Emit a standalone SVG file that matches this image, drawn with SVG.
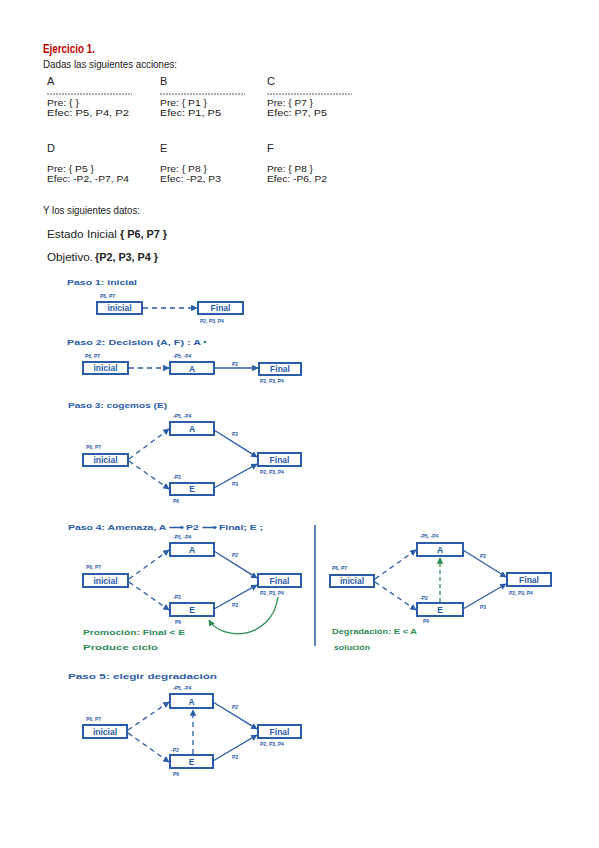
<svg xmlns="http://www.w3.org/2000/svg" width="599" height="848" viewBox="0 0 599 848">
<defs>
<style>
.t{font-family:"Liberation Sans",Arial,sans-serif;font-size:11px;fill:#222}
.s{font-size:9.5px}
.h{font-family:"Liberation Sans",Arial,sans-serif;font-weight:bold;fill:#2b5ca8}
.ti{font-size:8px}
.bx{font-size:8.5px}
.lb{font-size:5px}
.g{font-family:"Liberation Sans",Arial,sans-serif;font-weight:bold;fill:#2e8b57;font-size:8px}
.box{fill:#fff;stroke:#2b5ca8;stroke-width:2}
.sol{fill:none;stroke:#2b5ca8;stroke-width:1.3;marker-end:url(#ab)}
.das{fill:none;stroke:#2b5ca8;stroke-width:1.3;stroke-dasharray:5 4;marker-end:url(#ab)}
.gd{fill:none;stroke:#2e8b57;stroke-width:1.3;stroke-dasharray:4 3;marker-end:url(#ag)}
.gc{fill:none;stroke:#2e8b57;stroke-width:1.3;marker-end:url(#ag)}
</style>
<marker id="ab" viewBox="0 0 10 10" refX="9" refY="5" markerWidth="5" markerHeight="5" orient="auto"><path d="M0 0 L10 5 L0 10 z" fill="#2b5ca8"/></marker>
<marker id="ag" viewBox="0 0 10 10" refX="9" refY="5" markerWidth="5" markerHeight="5" orient="auto"><path d="M0 0 L10 5 L0 10 z" fill="#2e8b57"/></marker>
</defs>
<rect width="599" height="848" fill="#fff"/>

<g id="header">
<text x="43" y="53" font-family="Liberation Sans, Arial, sans-serif" font-weight="bold" font-size="12" fill="#c00000" textLength="52" lengthAdjust="spacingAndGlyphs">Ejercicio 1.</text>
<text x="43" y="68" class="t" font-size="12" textLength="134" lengthAdjust="spacingAndGlyphs">Dadas las siguientes acciones:</text>
</g>

<g id="acciones">
<text x="47" y="85" class="t">A</text>
<text x="160" y="85" class="t">B</text>
<text x="267" y="85" class="t">C</text>
<g stroke="#333" stroke-width="0.8" stroke-dasharray="2 1">
<line x1="47" y1="94" x2="132" y2="94"/>
<line x1="160" y1="94" x2="245" y2="94"/>
<line x1="267" y1="94" x2="352" y2="94"/>
</g>
<text x="47" y="106" class="t s" textLength="32" lengthAdjust="spacingAndGlyphs">Pre: { }</text>
<text x="47" y="116" class="t s" textLength="82" lengthAdjust="spacingAndGlyphs">Efec:  P5,  P4, P2</text>
<text x="160" y="106" class="t s" textLength="47" lengthAdjust="spacingAndGlyphs">Pre: { P1 }</text>
<text x="160" y="116" class="t s" textLength="61" lengthAdjust="spacingAndGlyphs">Efec:  P1, P5</text>
<text x="267" y="106" class="t s" textLength="46" lengthAdjust="spacingAndGlyphs">Pre: { P7 }</text>
<text x="267" y="116" class="t s" textLength="60" lengthAdjust="spacingAndGlyphs">Efec:  P7, P5</text>

<text x="47" y="152" class="t">D</text>
<text x="160" y="152" class="t">E</text>
<text x="267" y="152" class="t">F</text>
<text x="47" y="172" class="t s" textLength="47" lengthAdjust="spacingAndGlyphs">Pre: { P5 }</text>
<text x="47" y="182" class="t s" textLength="82" lengthAdjust="spacingAndGlyphs">Efec: -P2, -P7, P4</text>
<text x="160" y="172" class="t s" textLength="47" lengthAdjust="spacingAndGlyphs">Pre: { P8 }</text>
<text x="160" y="182" class="t s" textLength="61" lengthAdjust="spacingAndGlyphs">Efec: -P2, P3</text>
<text x="267" y="172" class="t s" textLength="46" lengthAdjust="spacingAndGlyphs">Pre: { P8 }</text>
<text x="267" y="182" class="t s" textLength="60" lengthAdjust="spacingAndGlyphs">Efec: -P6, P2</text>
</g>

<g id="datos">
<text x="43" y="214" class="t" font-size="12" textLength="97" lengthAdjust="spacingAndGlyphs">Y los siguientes datos:</text>
<text x="47" y="238" class="t" fill="#3b4c6e" textLength="70" lengthAdjust="spacingAndGlyphs">Estado Inicial</text>
<text x="120" y="238" class="t" font-weight="bold" textLength="47" lengthAdjust="spacingAndGlyphs">{ P6, P7 }</text>
<text x="47" y="261" class="t" fill="#3b4c6e" textLength="46" lengthAdjust="spacingAndGlyphs">Objetivo.</text>
<text x="95" y="261" class="t" font-weight="bold" textLength="63" lengthAdjust="spacingAndGlyphs">{P2, P3, P4 }</text>
</g>

<g id="titulos">
<text x="67" y="285" class="h ti" textLength="70" lengthAdjust="spacingAndGlyphs">Paso 1: inicial</text>
<text x="67" y="345" class="h ti" textLength="134" lengthAdjust="spacingAndGlyphs">Paso 2: Decisión (A, F) : A</text>
<circle cx="205" cy="342" r="1.3" fill="#2e8b57"/>
<text x="68" y="408" class="h ti" textLength="99" lengthAdjust="spacingAndGlyphs">Paso 3: cogemos (E)</text>
<text x="68" y="530" class="h ti" textLength="195" lengthAdjust="spacingAndGlyphs">Paso 4: Amenaza, A ⟶ P2 ⟶ Final; E ;</text>
<text x="68" y="679" class="h ti" textLength="149" lengthAdjust="spacingAndGlyphs">Paso 5: elegir  degradación</text>
</g>

<g id="connectors">
<path class="das" d="M143 308 L197 308"/>
<path class="das" d="M129 368 L169 368"/>
<path class="sol" d="M215 368 L258 368"/>
<path class="das" d="M129 459 L169 429"/>
<path class="das" d="M129 461 L169 489"/>
<path class="sol" d="M214 430 L257 457"/>
<path class="sol" d="M214 488 L257 464"/>
<path class="das" d="M129 579 L169 550"/>
<path class="das" d="M129 582 L169 610"/>
<path class="sol" d="M214 551 L257 578"/>
<path class="sol" d="M214 609 L257 585"/>
<path class="gc" d="M278 597 C 272 640, 222 642, 209 620"/>
<line x1="315" y1="525" x2="315" y2="646" stroke="#2b5ca8" stroke-width="1.5"/>
<path class="das" d="M375 579 L416 550"/>
<path class="das" d="M375 582 L416 610"/>
<path class="sol" d="M463 550 L506 577"/>
<path class="sol" d="M463 609 L506 584"/>
<path class="gd" d="M440 602 L440 558"/>
<path class="das" d="M128 730 L169 702"/>
<path class="das" d="M128 733 L169 762"/>
<path class="sol" d="M213 702 L257 729"/>
<path class="sol" d="M213 761 L257 735"/>
<path class="das" d="M193 754 L193 710" stroke-dasharray="3 3"/>
</g>

<g id="p1-inicial"><rect class="box" x="97" y="302" width="45" height="12"/><text x="119.5" y="311" class="h bx" text-anchor="middle">inicial</text><text x="100" y="298" class="h lb">P6, P7</text></g>
<g id="p1-final"><rect class="box" x="198" y="302" width="45" height="12"/><text x="220.5" y="311" class="h bx" text-anchor="middle">Final</text><text x="200" y="323" class="h lb">P2, P3, P4</text></g>

<g id="p2-inicial"><rect class="box" x="83" y="362" width="45" height="12"/><text x="105.5" y="371" class="h bx" text-anchor="middle">inicial</text><text x="85" y="358" class="h lb">P6, P7</text></g>
<g id="p2-A"><rect class="box" x="170" y="362" width="44" height="12"/><text x="192" y="371.5" class="h bx" text-anchor="middle">A</text><text x="173" y="358" class="h lb">-P5, -P4</text><text x="232" y="366" class="h lb">P2</text></g>
<g id="p2-final"><rect class="box" x="259" y="363" width="42" height="12"/><text x="280" y="372" class="h bx" text-anchor="middle">Final</text><text x="260" y="383" class="h lb">P2, P3, P4</text></g>

<g id="p3-A"><rect class="box" x="170" y="422" width="44" height="13"/><text x="192" y="432" class="h bx" text-anchor="middle">A</text><text x="173" y="418" class="h lb">-P5, -P4</text><text x="232" y="436" class="h lb">P2</text></g>
<g id="p3-inicial"><rect class="box" x="83" y="454" width="45" height="12"/><text x="105.5" y="463" class="h bx" text-anchor="middle">inicial</text><text x="86" y="449" class="h lb">P6, P7</text></g>
<g id="p3-E"><rect class="box" x="170" y="483" width="44" height="12"/><text x="192" y="492" class="h bx" text-anchor="middle">E</text><text x="173" y="479" class="h lb">-P2</text><text x="173" y="503" class="h lb">P6</text><text x="232" y="486" class="h lb">P3</text></g>
<g id="p3-final"><rect class="box" x="258" y="453" width="43" height="13"/><text x="279.5" y="463" class="h bx" text-anchor="middle">Final</text><text x="260" y="474" class="h lb">P2, P3, P4</text></g>

<g id="p4a-A"><rect class="box" x="170" y="543" width="44" height="13"/><text x="192" y="553" class="h bx" text-anchor="middle">A</text><text x="173" y="539" class="h lb">-P5, -P4</text><text x="232" y="557" class="h lb">P2</text></g>
<g id="p4a-inicial"><rect class="box" x="83" y="574" width="45" height="13"/><text x="105.5" y="584" class="h bx" text-anchor="middle">inicial</text><text x="86" y="569" class="h lb">P6, P7</text></g>
<g id="p4a-E"><rect class="box" x="170" y="603" width="44" height="13"/><text x="192" y="613" class="h bx" text-anchor="middle">E</text><text x="173" y="599" class="h lb">-P2</text><text x="175" y="624" class="h lb">P6</text><text x="232" y="607" class="h lb">P3</text></g>
<g id="p4a-final"><rect class="box" x="258" y="574" width="43" height="13"/><text x="279.5" y="584" class="h bx" text-anchor="middle">Final</text><text x="260" y="595" class="h lb">P2, P3, P4</text></g>
<g id="p4a-nota"><text x="83" y="635" class="g" textLength="102" lengthAdjust="spacingAndGlyphs">Promoción: Final &lt; E</text><text x="83" y="650" class="g" textLength="75" lengthAdjust="spacingAndGlyphs">Produce  ciclo</text></g>

<g id="p4b-A"><rect class="box" x="417" y="543" width="46" height="13"/><text x="440" y="553" class="h bx" text-anchor="middle">A</text><text x="420" y="538" class="h lb">-P5, -P4</text><text x="480" y="558" class="h lb">P2</text></g>
<g id="p4b-inicial"><rect class="box" x="330" y="575" width="44" height="12"/><text x="352" y="584" class="h bx" text-anchor="middle">inicial</text><text x="332" y="570" class="h lb">P6, P7</text></g>
<g id="p4b-E"><rect class="box" x="417" y="603" width="46" height="13"/><text x="440" y="613" class="h bx" text-anchor="middle">E</text><text x="420" y="600" class="h lb">-P2</text><text x="423" y="623" class="h lb">P6</text><text x="480" y="609" class="h lb">P3</text></g>
<g id="p4b-final"><rect class="box" x="507" y="573" width="44" height="13"/><text x="529" y="583" class="h bx" text-anchor="middle">Final</text><text x="509" y="595" class="h lb">P2, P3, P4</text></g>
<g id="p4b-nota"><text x="332" y="634" class="g" textLength="85" lengthAdjust="spacingAndGlyphs">Degradación: E &lt; A</text><text x="334" y="650" class="g" textLength="36" lengthAdjust="spacingAndGlyphs">solución</text></g>

<g id="p5-A"><rect class="box" x="170" y="694" width="43" height="14"/><text x="191.5" y="705" class="h bx" text-anchor="middle">A</text><text x="173" y="690" class="h lb">-P5, -P4</text><text x="232" y="709" class="h lb">P2</text></g>
<g id="p5-inicial"><rect class="box" x="83" y="725" width="44" height="13"/><text x="105" y="735" class="h bx" text-anchor="middle">inicial</text><text x="86" y="721" class="h lb">P6, P7</text></g>
<g id="p5-E"><rect class="box" x="170" y="755" width="43" height="13"/><text x="191.5" y="765" class="h bx" text-anchor="middle">E</text><text x="171" y="752" class="h lb">-P2</text><text x="173" y="776" class="h lb">P6</text><text x="232" y="759" class="h lb">P3</text></g>
<g id="p5-final"><rect class="box" x="258" y="725" width="43" height="13"/><text x="279.5" y="735" class="h bx" text-anchor="middle">Final</text><text x="260" y="746" class="h lb">P2, P3, P4</text></g>
</svg>
